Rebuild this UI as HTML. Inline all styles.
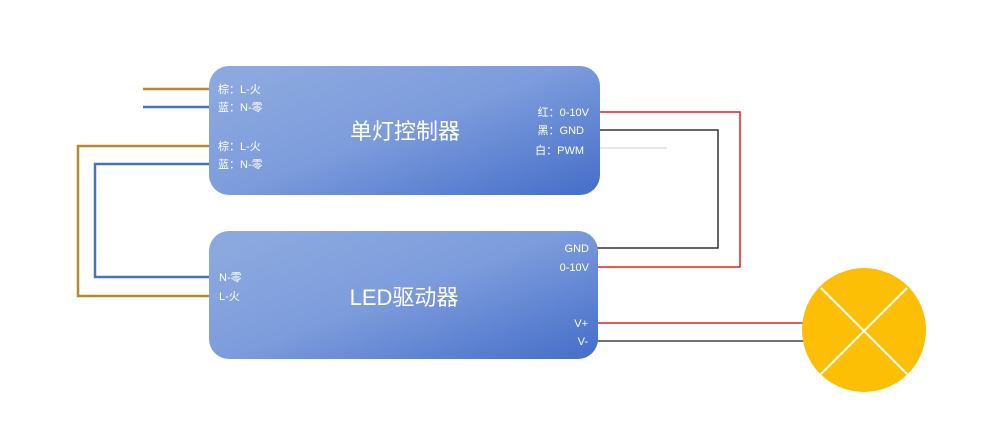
<!DOCTYPE html>
<html><head><meta charset="utf-8"><style>
body{margin:0;background:#fff;width:1000px;height:437px;overflow:hidden;font-family:"Liberation Sans","Noto Sans CJK SC",sans-serif}
</style></head><body>
<svg width="1000" height="437" xmlns="http://www.w3.org/2000/svg" style="position:absolute;left:0;top:0">
<defs>
<linearGradient id="g" x1="0.1" y1="0.1" x2="1" y2="0.9">
<stop offset="0" stop-color="#8ba8df"/><stop offset="0.45" stop-color="#7d9cdc"/><stop offset="1" stop-color="#4a72cb"/>
</linearGradient>
</defs>
<g fill="none" stroke-width="2.5">
<path d="M143 89H212" stroke="#b48a2a"/>
<path d="M143 107H212" stroke="#4472c4"/>
<path d="M212 146H78V296H212" stroke="#b48a2a"/>
<path d="M212 164H95V277H212" stroke="#4472c4"/>
</g>
<g fill="none" stroke-width="1.5">
<path d="M598 112H740V267H596" stroke="#e02020"/>
<path d="M598 130H718V248H596" stroke="#333"/>
<path d="M598 148H667" stroke="#ddd"/>
<path d="M596 323H805" stroke="#e02020"/>
<path d="M596 341H805" stroke="#444"/>
</g>
<rect x="209" y="66" width="391" height="129" rx="20" fill="url(#g)"/>
<rect x="209" y="231" width="389" height="128" rx="20" fill="url(#g)"/>
<circle cx="864" cy="330" r="62" fill="#fdbf06"/>
<g stroke="#fff" stroke-width="2"><path d="M821 288L907 374M907 288L821 374"/></g>
<g fill="#fff" font-size="11">
<text x="218" y="93">棕：L-火</text>
<text x="218" y="111">蓝：N-零</text>
<text x="218" y="150">棕：L-火</text>
<text x="218" y="168">蓝：N-零</text>
<text x="589" y="116" text-anchor="end">红：0-10V</text>
<text x="584" y="134" text-anchor="end">黑：GND</text>
<text x="584" y="154" text-anchor="end">白：PWM</text>
<text x="589" y="252" text-anchor="end">GND</text>
<text x="589" y="271" text-anchor="end">0-10V</text>
<text x="588" y="327" text-anchor="end">V+</text>
<text x="588" y="345" text-anchor="end">V-</text>
<text x="219" y="281">N-零</text>
<text x="219" y="300">L-火</text>
</g>
<g fill="#fff" font-size="22">
<text x="405" y="139" text-anchor="middle">单灯控制器</text>
<text x="404" y="305" text-anchor="middle">LED驱动器</text>
</g>
</svg>
</body></html>
